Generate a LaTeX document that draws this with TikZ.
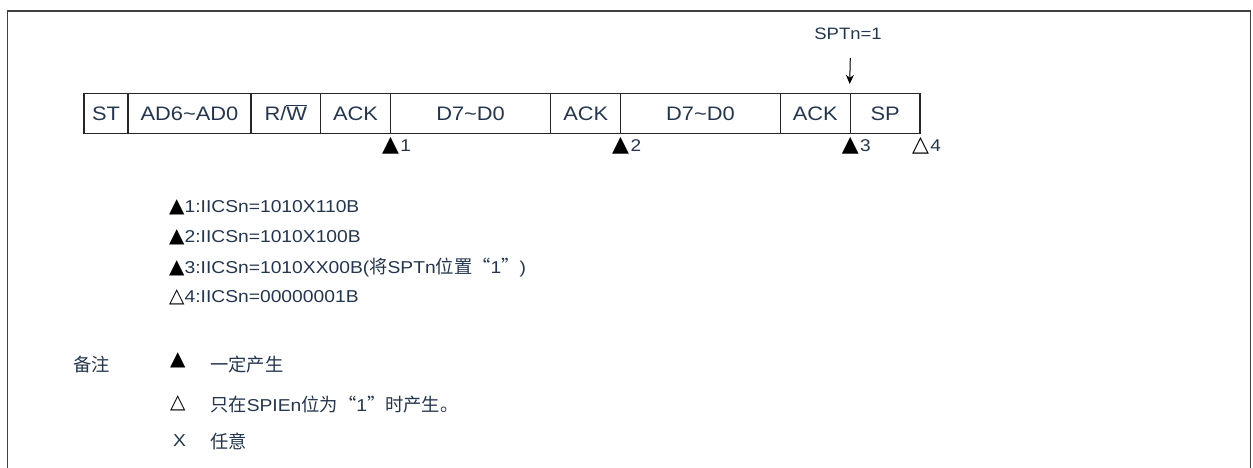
\documentclass[tikz,border=0pt]{standalone}
\usepackage{fontspec}
\setmainfont[FakeStretch=1.12]{Liberation Sans}
\newfontfamily\cjk{Noto Sans CJK SC}
\newfontfamily\sym{DejaVu Sans}
\usetikzlibrary{arrows.meta}
\definecolor{txt}{RGB}{36,54,79}
\newcommand\C[1]{{\cjk\fontsize{18.3}{20}\selectfont #1}}
\newcommand\Tri[1]{{\sym\fontsize{20}{20}\selectfont\color{black}#1}}
\tikzset{
 frame/.style={draw=black!75, line width=1.3pt},
 cell/.style={draw=black!85, line width=1.2pt, inner sep=0pt, minimum height=40pt, text height=14pt, text depth=0pt, font=\fontsize{19.5}{22}\selectfont, text=txt},
 note/.style={anchor=west, inner sep=0pt, font=\fontsize{17.2}{20}\selectfont, text=txt},
 trimark/.style={inner sep=0pt, font=\sym\fontsize{22}{22}\selectfont, text=black},
 num/.style={anchor=west, inner sep=1pt, font=\fontsize{17}{20}\selectfont, text=txt},
 arr/.style={-{Stealth[length=9pt,width=8pt]}, line width=1pt},
}
\begin{document}
\begin{tikzpicture}[x=1pt,y=-1pt]
\useasboundingbox (0,0) rectangle (1253,468);
\draw[frame] (7.5,468) -- (7.5,11) -- (1250.5,11) -- (1250.5,468);
% frame cells
\node[cell, minimum width=44pt]    (c1) at (106,113.5)   {ST};
\node[cell, minimum width=123pt]   (c2) at (189.5,113.5) {AD6\textasciitilde AD0};
\node[cell, minimum width=69.5pt]  (c3) at (285.75,113.5) {R/$\overline{\mbox{W}}$};
\node[cell, minimum width=70pt]    (c4) at (355.5,113.5) {ACK};
\node[cell, minimum width=160.2pt] (c5) at (470.6,113.5) {D7\textasciitilde D0};
\node[cell, minimum width=70pt]    (c6) at (585.7,113.5) {ACK};
\node[cell, minimum width=159.6pt] (c7) at (700.5,113.5) {D7\textasciitilde D0};
\node[cell, minimum width=70pt]    (c8) at (815.3,113.5) {ACK};
\node[cell, minimum width=69.7pt]  (c9) at (885.15,113.5) {SP};
% SPTn label and arrow
\node[note, anchor=center, font=\fontsize{16.5}{20}\selectfont] (spt) at (848,34) {SPTn=1};
\coordinate (atop) at (850.3,58);
\draw[arr] (atop) -- ([yshift=9pt]c9.north west);
% markers
\node[trimark] (t1) at (390.5,146) {▲};
\node[num] (n1) at (t1.east) {1};
\node[trimark] (t2) at (620.7,146) {▲};
\node[num] (n2) at (t2.east) {2};
\node[trimark] (t3) at (850.3,146) {▲};
\node[num] (n3) at (t3.east) {3};
\node[trimark] (t4) at (920.5,146) {△};
\node[num] (n4) at (t4.east) {4};
% notes
\node[note] (l1) at (169,207.5) {\Tri{▲}1:IICSn=1010X110B};
\node[note] (l2) at (169,237.5) {\Tri{▲}2:IICSn=1010X100B};
\node[note] (l3) at (169,267.5) {\Tri{▲}3:IICSn=1010XX00B(\C{将}SPTn\C{位置“}1\C{”})};
\node[note] (l4) at (169,297.5) {\Tri{△}4:IICSn=00000001B};
% legend
\node[note] (bz) at (73,365) {\C{备注}};
\node[note] (g1) at (170,360) {\Tri{▲}};
\node[note] (g1t) at (210,365) {\C{一定产生}};
\node[note] (g2) at (170,403) {\Tri{△}};
\node[note] (g2t) at (210,405) {\C{只在}SPIEn\C{位为“}1\C{”时产生。}};
\node[note] (g3) at (173,441) {X};
\node[note] (g3t) at (210,441) {\C{任意}};
\end{tikzpicture}
\end{document}
